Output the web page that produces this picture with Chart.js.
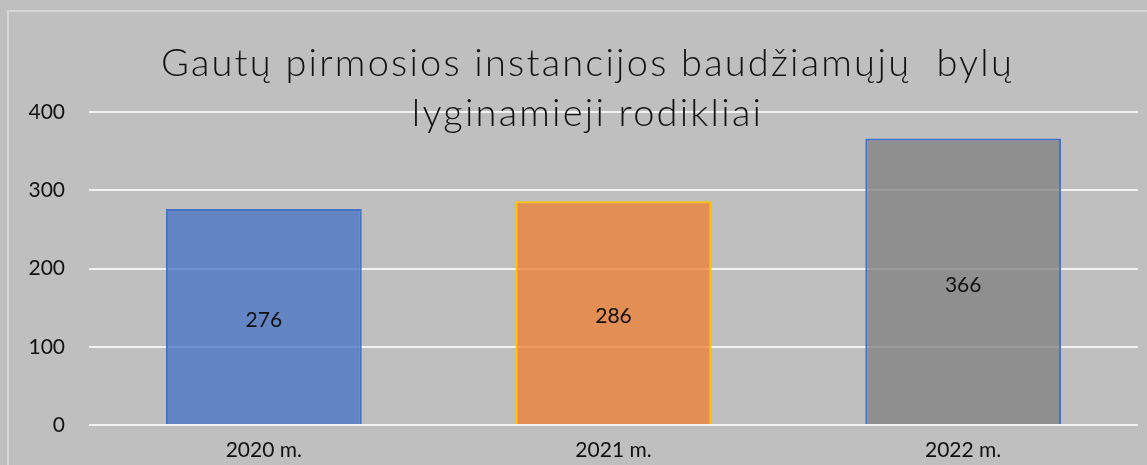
<!DOCTYPE html>
<html lang="lt">
<head>
    <meta charset="UTF-8">
    <title>Gautų pirmosios instancijos baudžiamųjų bylų lyginamieji rodikliai</title>
    <script src="https://cdn.jsdelivr.net/npm/chart.js"></script>
    <style>
        html, body {
            margin: 0;
            padding: 0;
            background: #bfbfbf;
            overflow: hidden;
        }
        .wrap {
            position: relative;
            width: 1147px;
            height: 465px;
        }
        .frame {
            position: absolute;
            left: 7px;
            top: 10px;
            width: 1140px;
            height: 455px;
            border-top: 2px solid #d6d6d6;
            border-left: 2px solid #d6d6d6;
            box-sizing: border-box;
        }
        canvas {
            position: absolute;
            left: 0;
            top: 0;
        }
        .title {
            position: absolute;
            left: 0;
            top: 36px;
            width: 1175px;
            text-align: center;
            font-family: Lato, "Open Sans", sans-serif;
            font-weight: 300;
            font-size: 38px;
            line-height: 50px;
            color: #111;
            letter-spacing: 2.2px;
            pointer-events: none;
        }
    </style>
</head>
<body>
    <div class="wrap">
        <div class="frame"></div>
        <canvas id="chart" width="1147" height="465"></canvas>
        <div class="title">Gautų pirmosios instancijos baudžiamųjų&nbsp; bylų<br>lyginamieji rodikliai</div>
    </div>

    <script>
const years = ['2020 m.', '2021 m.', '2022 m.'];
const cases = [276, 286, 366];
const fills = ['rgba(68,114,196,0.75)', 'rgba(237,125,49,0.75)', 'rgba(127,127,127,0.75)'];
const borders = ['#4472c4', '#ffc000', '#4472c4'];

// value labels in the middle of each bar
const centerLabels = {
    id: 'centerLabels',
    afterDatasetsDraw(chart) {
        const ctx = chart.ctx;
        const meta = chart.getDatasetMeta(0);
        ctx.save();
        ctx.font = '21px Lato, "Open Sans", sans-serif';
        ctx.fillStyle = '#111';
        ctx.textAlign = 'center';
        ctx.textBaseline = 'middle';
        meta.data.forEach((bar, i) => {
            const y = (bar.y + bar.base) / 2 + 4;
            ctx.fillText(String(cases[i]), bar.x, y);
        });
        ctx.restore();
    }
};

Chart.defaults.font.family = 'Lato, "Open Sans", sans-serif';
Chart.defaults.color = '#111';

new Chart(document.getElementById('chart').getContext('2d'), {
    type: 'bar',
    data: {
        labels: years,
        datasets: [{
            data: cases,
            backgroundColor: fills,
            borderColor: borders,
            borderWidth: 2,
            categoryPercentage: 1,
            barPercentage: 0.56
        }]
    },
    options: {
        responsive: false,
        animation: false,
        layout: { padding: { top: 112, right: 9, left: 0, bottom: 0 } },
        plugins: {
            legend: { display: false },
            tooltip: { enabled: false },
            title: { display: false }
        },
        scales: {
            x: {
                afterFit(scale) { scale.height = 40; },
                grid: { display: false, drawTicks: false },
                border: { display: false },
                ticks: { font: { size: 21 }, padding: 13 }
            },
            y: {
                min: 0,
                max: 400,
                afterFit(scale) { scale.width = 89; },
                ticks: { stepSize: 100, font: { size: 21 }, padding: 24 },
                grid: { color: '#f2f2f2', lineWidth: 2, drawTicks: false },
                border: { display: false }
            }
        }
    },
    plugins: [centerLabels]
});
    </script>
</body>
</html>
